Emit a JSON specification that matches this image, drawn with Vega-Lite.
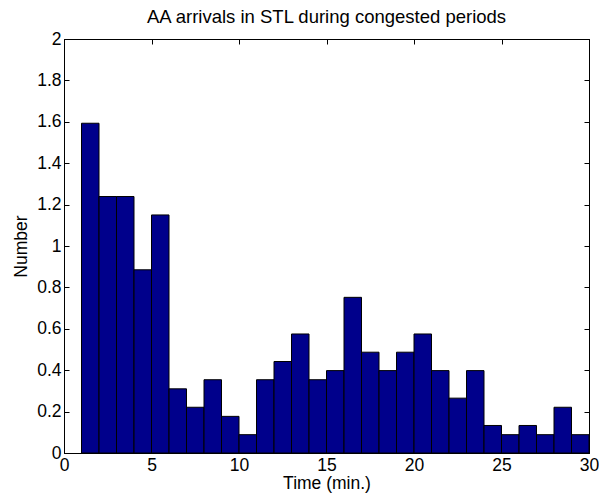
{
  "$schema": "https://vega.github.io/schema/vega-lite/v6.json",
  "width": 525,
  "height": 414,
  "autosize": {"type": "none"},
  "padding": {"left": 64, "top": 39, "right": 10, "bottom": 44},
  "background": "white",
  "title": {
    "text": "AA arrivals in STL during congested periods",
    "font": "Liberation Sans",
    "fontSize": 18.5,
    "fontWeight": "normal",
    "color": "black",
    "anchor": "middle",
    "offset": 4
  },
  "config": {
    "view": {"stroke": "black", "strokeWidth": 1},
    "axis": {
      "grid": false,
      "domainColor": "black",
      "tickColor": "black",
      "labelColor": "black",
      "titleColor": "black",
      "labelFont": "Liberation Sans",
      "titleFont": "Liberation Sans",
      "labelFontSize": 17.5,
      "titleFontSize": 17.5,
      "titleFontWeight": "normal"
    }
  },
  "data": {
    "values": [
      {"start": 1, "end": 2, "value": 1.593},
      {"start": 2, "end": 3, "value": 1.239},
      {"start": 3, "end": 4, "value": 1.239},
      {"start": 4, "end": 5, "value": 0.885},
      {"start": 5, "end": 6, "value": 1.150},
      {"start": 6, "end": 7, "value": 0.310},
      {"start": 7, "end": 8, "value": 0.221},
      {"start": 8, "end": 9, "value": 0.354},
      {"start": 9, "end": 10, "value": 0.177},
      {"start": 10, "end": 11, "value": 0.0885},
      {"start": 11, "end": 12, "value": 0.354},
      {"start": 12, "end": 13, "value": 0.442},
      {"start": 13, "end": 14, "value": 0.575},
      {"start": 14, "end": 15, "value": 0.354},
      {"start": 15, "end": 16, "value": 0.398},
      {"start": 16, "end": 17, "value": 0.752},
      {"start": 17, "end": 18, "value": 0.487},
      {"start": 18, "end": 19, "value": 0.398},
      {"start": 19, "end": 20, "value": 0.487},
      {"start": 20, "end": 21, "value": 0.575},
      {"start": 21, "end": 22, "value": 0.398},
      {"start": 22, "end": 23, "value": 0.265},
      {"start": 23, "end": 24, "value": 0.398},
      {"start": 24, "end": 25, "value": 0.133},
      {"start": 25, "end": 26, "value": 0.0885},
      {"start": 26, "end": 27, "value": 0.133},
      {"start": 27, "end": 28, "value": 0.0885},
      {"start": 28, "end": 29, "value": 0.221},
      {"start": 29, "end": 30, "value": 0.0885}
    ]
  },
  "layer": [
    {
      "mark": {"type": "bar", "fill": "#00008B", "stroke": "black", "strokeWidth": 1},
      "encoding": {
        "x": {
          "field": "start", "type": "quantitative",
          "scale": {"domain": [0, 30], "nice": false, "zero": false},
          "axis": {"values": [0, 5, 10, 15, 20, 25, 30], "title": "Time (min.)", "tickSize": -5, "labelPadding": 8, "titlePadding": 1, "labelFlush": false}
        },
        "x2": {"field": "end"},
        "y": {
          "field": "value", "type": "quantitative",
          "scale": {"domain": [0, 2], "nice": false},
          "axis": {"values": [0, 0.2, 0.4, 0.6, 0.8, 1, 1.2, 1.4, 1.6, 1.8, 2], "format": "~g", "title": "Number", "tickSize": -5, "labelPadding": 8, "titlePadding": 6, "labelFlush": false}
        },
        "y2": {"datum": 0}
      }
    },
    {
      "mark": {"type": "point", "opacity": 0},
      "encoding": {
        "x": {
          "field": "start", "type": "quantitative",
          "scale": {"domain": [0, 30], "nice": false, "zero": false},
          "axis": {"orient": "top", "values": [0, 5, 10, 15, 20, 25, 30], "labels": false, "title": null, "tickSize": -5}
        },
        "y": {
          "field": "value", "type": "quantitative",
          "scale": {"domain": [0, 2], "nice": false},
          "axis": {"orient": "right", "values": [0, 0.2, 0.4, 0.6, 0.8, 1, 1.2, 1.4, 1.6, 1.8, 2], "labels": false, "title": null, "tickSize": -5}
        }
      }
    }
  ],
  "resolve": {"axis": {"x": "independent", "y": "independent"}}
}
